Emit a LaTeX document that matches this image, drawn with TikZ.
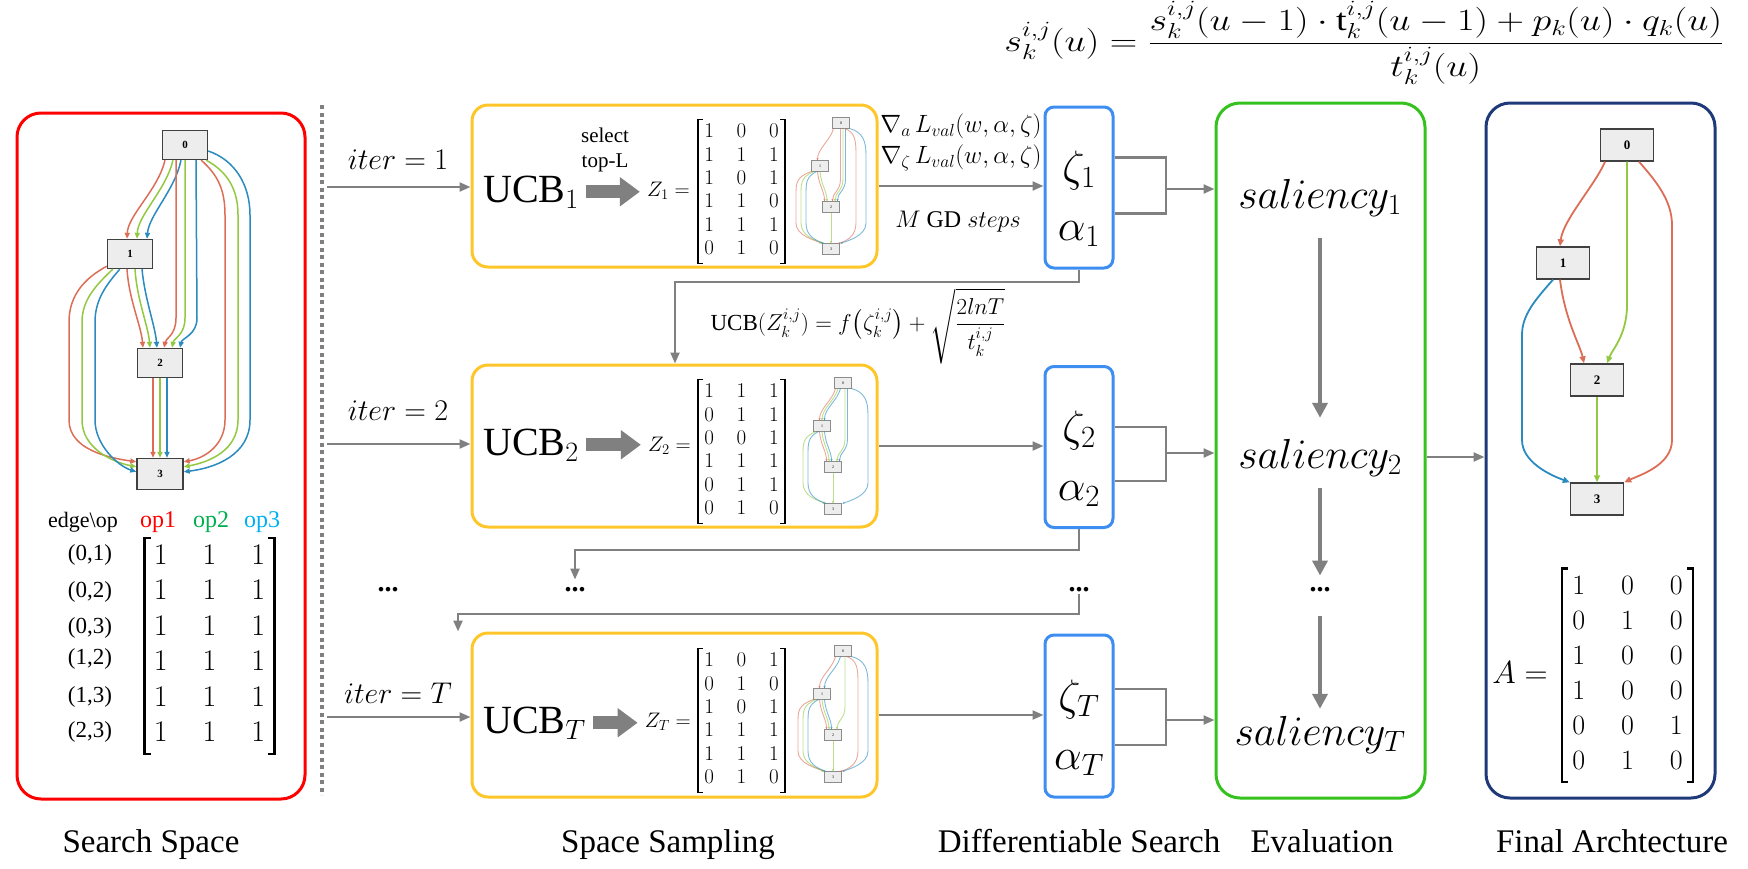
\RequirePackage{fix-cm}
\documentclass[tikz,border=0pt]{standalone}
\usepackage{amsmath}
\usepackage{graphicx}
\usepackage{fontspec}
\setmainfont{Liberation Serif}
\usetikzlibrary{arrows.meta,calc}

\definecolor{cred}{HTML}{FF0000}
\definecolor{cyel}{HTML}{FFC62A}
\definecolor{cblu}{HTML}{3D8EF0}
\definecolor{cgrn}{HTML}{35C21E}
\definecolor{cnavy}{HTML}{1F3A78}
\definecolor{cgray}{HTML}{808080}
\definecolor{ered}{HTML}{DC6E57}
\definecolor{egrn}{HTML}{92C842}
\definecolor{eblu}{HTML}{2A8BBF}
\definecolor{opred}{HTML}{FF0000}
\definecolor{opgrn}{HTML}{00B050}
\definecolor{opblu}{HTML}{00B0F0}
\definecolor{nodefill}{HTML}{EDEDED}

\newcommand\fs[1]{\fontsize{#1}{#1}\selectfont}

\tikzset{
  panel/.style={draw, line width=3pt, rounded corners=24pt, inner sep=0pt},
  ybox/.style={draw=cyel, line width=3pt, rounded corners=16pt, minimum width=405pt, minimum height=162pt, inner sep=0pt},
  zbox/.style={draw=cblu, line width=3pt, rounded corners=9pt, minimum width=68pt, minimum height=161pt, inner sep=0pt},
  conn/.style={draw=cgray, line width=2.2pt, -{Triangle[length=11pt,width=9pt]}},
  cline/.style={draw=cgray, line width=2.2pt},
  garr/.style={draw=cgray, line width=4pt, -{Triangle[length=15pt,width=15pt]}},
  bigarrow/.style={draw=cgray, line width=13pt, -{Triangle[length=20pt,width=28pt]}, shorten <=6pt, shorten >=6pt},
  gnode/.style={draw=black!75, fill=nodefill, line width=1.4pt, minimum width=45pt, minimum height=29pt, inner sep=0pt, font=\fs{11}\bfseries},
  fnode/.style={gnode, minimum width=53pt, minimum height=32pt, font=\fs{13}\bfseries},
  mnode/.style={draw=black!45, fill=nodefill, line width=0.6pt, minimum width=17pt, minimum height=11pt, inner sep=0pt, font=\fs{4}},
  ge/.style={line width=1.5pt, -{Triangle[length=6pt,width=5pt]}},
  ger/.style={ge, draw=ered}, geg/.style={ge, draw=egrn}, geb/.style={ge, draw=eblu},
  fe/.style={line width=1.8pt, -{Triangle[length=7pt,width=6pt]}},
  me/.style={line width=0.9pt, draw opacity=0.6, -{Stealth[length=2.5pt,width=2.2pt]}},
  me1/.style={me, draw=ered}, me2/.style={me, draw=egrn}, me3/.style={me, draw=eblu},
  mat/.style={inner ysep=1.5pt},
  dots/.style={font=\fs{28}\bfseries, inner sep=2pt},
  lab/.style={font=\fs{33}, anchor=base},
  itl/.style={font=\fs{30}, anchor=base},
  ucb/.style={font=\fs{40}, anchor=base west, inner sep=1pt},
}

\newcommand\brk[3]{%
  \draw[line width=#3] ([xshift=#2]#1.north west) -- (#1.north west) -- (#1.south west) -- ([xshift=#2]#1.south west);
  \draw[line width=#3] ([xshift=-#2]#1.north east) -- (#1.north east) -- (#1.south east) -- ([xshift=-#2]#1.south east);}

\newcommand\mini[2]{%
  \node[mnode] (#1-0) at #2 {0};
  \node[mnode] (#1-1) at ($#2+(-21,43)$) {1};
  \node[mnode] (#1-2) at ($#2+(-10,84)$) {2};
  \node[mnode] (#1-3) at ($#2+(-10,126)$) {3};}

\newcommand\medgeX[3]{%
  \pgfmathsetmacro\dd{(#3-2)*2.5}%
  \ifcase#2\relax\or
    \draw[me#3] ($(#1-0)+({-5+\dd},5.5)$) .. controls +(-3,12) and +(0,-12) .. ($(#1-0)+({-21+\dd},37.5)$);%
  \or
    \draw[me#3] ($(#1-0)+({2+\dd},5.5)$) -- ($(#1-0)+({2+\dd},56)$) .. controls +(0,12) and +(0,-9) .. ($(#1-0)+({-6+\dd},78.5)$);%
  \or
    \draw[me#3] ($(#1-0)+({6+\dd},5.5)$) .. controls ($(#1-0)+({18+1.5*\dd},9)$) and ($(#1-0)+({20+2*\dd},18)$) .. ($(#1-0)+({20+2*\dd},32)$) -- ($(#1-0)+({20+2*\dd},100)$) .. controls ($(#1-0)+({20+2*\dd},113)$) and ($(#1-0)+(6,118)$) .. ($(#1-0)+({-2+0.5*\dd},120.5)$);%
  \or
    \draw[me#3] ($(#1-0)+({-21+\dd},48.5)$) .. controls +(1,13) and +(0,-10) .. ($(#1-0)+({-14+\dd},78.5)$);%
  \or
    \draw[me#3] ($(#1-0)+({-27+\dd},48.5)$) .. controls ($(#1-0)+({-40+2*\dd},54)$) and ($(#1-0)+({-40+2*\dd},60)$) .. ($(#1-0)+({-40+2*\dd},72)$) -- ($(#1-0)+({-40+2*\dd},100)$) .. controls ($(#1-0)+({-40+2*\dd},113)$) and ($(#1-0)+(-26,117)$) .. ($(#1-0)+({-18+0.5*\dd},120.5)$);%
  \or
    \draw[me#3] ($(#1-0)+({-10+\dd},89.5)$) -- ($(#1-0)+({-10+\dd},120.5)$);%
  \fi}
\newcommand\medge[3]{\edef\tmpedge{\noexpand\medgeX{#1}{#2}{#3}}\tmpedge}

\begin{document}
\begin{tikzpicture}[x=1pt,y=-1pt]
\useasboundingbox (0,0) rectangle (1748,868);

% ---------- panels ----------
\node[panel, draw=cred, minimum width=288pt, minimum height=686pt] (ss) at (161,456) {};
\draw[cgray, line width=4pt, dash pattern=on 4pt off 3.5pt] (322,105) -- (322,795);
\node[ybox] (yb1) at (674.5,186) {};
\node[ybox] (yb2) at (674.5,446) {};
\node[ybox, minimum height=164pt] (ybT) at (674.5,715) {};
\node[zbox] (z1) at (1079,187.5) {};
\node[zbox] (z2) at (1079,447) {};
\node[zbox, minimum height=162pt] (zT) at (1079,716) {};
\node[panel, draw=cgrn, minimum width=209pt, minimum height=695pt] (gb) at (1320.5,450.5) {};
\node[panel, draw=cnavy, minimum width=229pt, minimum height=695pt] (nb) at (1600.5,450.5) {};

% ---------- search space graph ----------
\node[gnode] (n0) at (185,145) {0};
\node[gnode] (n1) at (130,254) {1};
\node[gnode] (n2) at (160,363) {2};
\node[gnode, minimum width=46pt, minimum height=31pt] (n3) at (160,474) {3};
% 0->1
\draw[ger] ($(n0.south)+(-20,0)$) .. controls (158,190) and (128,215) .. ($(n1.north)+(-3,0)$);
\draw[geg] ($(n0.south)+(-12,0)$) .. controls (166,190) and (138,215) .. ($(n1.north)+(7,0)$);
\draw[geb] ($(n0.south)+(-4,0)$) .. controls (175,190) and (149,215) .. ($(n1.north)+(17,0)$);
% 0->2
\draw[ger] ($(n0.south)+(-9,0)$) -- (176,318) .. controls (176,335) and (166,338) .. ($(n2.north)+(4,0)$);
\draw[geg] (n0.south) -- (185,318) .. controls (185,335) and (174,338) .. ($(n2.north)+(12,0)$);
\draw[geb] ($(n0.south)+(11,0)$) -- (197,318) .. controls (197,335) and (182,338) .. ($(n2.north)+(20,0)$);
% 0->3
\draw[ger] ($(n0.south east)+(-7,0)$) .. controls (218,175) and (225,190) .. (225,215) -- (225,420) .. controls (225,445) and (205,458) .. ($(n3.north east)+(0,4)$);
\draw[geg] ($(n0.south east)+(-2,0)$) .. controls (228,172) and (238,190) .. (238,215) -- (238,420) .. controls (238,450) and (210,462) .. ($(n3.north east)+(0,9)$);
\draw[geb] ($(n0.east)+(0,6)$) .. controls (235,160) and (250,185) .. (250,215) -- (250,420) .. controls (250,455) and (215,468) .. ($(n3.north east)+(0,14)$);
% 1->3
\draw[ger] ($(n1.south west)+(0,-3)$) .. controls (85,278) and (69,295) .. (69,322) -- (69,420) .. controls (69,450) and (110,458) .. ($(n3.north west)+(0,4)$);
\draw[geg] ($(n1.south west)+(6,0)$) .. controls (96,285) and (82,300) .. (82,322) -- (82,420) .. controls (82,448) and (112,462) .. ($(n3.north west)+(0,9)$);
\draw[geb] ($(n1.south west)+(13,0)$) .. controls (106,285) and (95,300) .. (95,322) -- (95,420) .. controls (95,445) and (118,466) .. ($(n3.north west)+(0,14)$);
% 1->2
\draw[ger] ($(n1.south)+(-3,0)$) .. controls (129,300) and (141,325) .. ($(n2.north)+(-17,0)$);
\draw[geg] ($(n1.south)+(5,0)$) .. controls (137,300) and (148,325) .. ($(n2.north)+(-10,0)$);
\draw[geb] ($(n1.south)+(12,0)$) .. controls (145,300) and (155,325) .. ($(n2.north)+(-3,0)$);
% 2->3
\draw[ger] ($(n2.south)+(-7,0)$) -- ($(n3.north)+(-7,0)$);
\draw[geg] (n2.south) -- (n3.north);
\draw[geb] ($(n2.south)+(7,0)$) -- ($(n3.north)+(7,0)$);

% ---------- search space matrix ----------
\node[font=\fs{22}] (eo) at (83,522) {edge\textbackslash op};
\node[font=\fs{24}, text=opred] (op1) at (158,522) {op1};
\node[font=\fs{24}, text=opgrn] (op2) at (211,522) {op2};
\node[font=\fs{24}, text=opblu] (op3) at (262,522) {op3};
\node[font=\fs{23}] (r1) at (90,555) {(0,1)};
\node[font=\fs{23}] (r2) at (90,592) {(0,2)};
\node[font=\fs{23}] (r3) at (90,628) {(0,3)};
\node[font=\fs{23}] (r4) at (90,659) {(1,2)};
\node[font=\fs{23}] (r5) at (90,697) {(1,3)};
\node[font=\fs{23}] (r6) at (90,732) {(2,3)};
\node[mat, inner xsep=9pt, font={\fontsize{30}{35.5}\selectfont\setlength{\arraycolsep}{17.5pt}}] (lm) at (209.5,646) {$\begin{matrix}1&1&1\\1&1&1\\1&1&1\\1&1&1\\1&1&1\\1&1&1\end{matrix}$};
\brk{lm}{6pt}{2.4pt}

% ---------- iteration arrows ----------
\coordinate (it1) at (327,187);
\coordinate (it2) at (327,444);
\coordinate (itT) at (327,717);
\node[itl] (i1) at (398,169) {$iter = 1$};
\node[itl] (i2) at (398,420) {$iter = 2$};
\node[itl] (iT) at (398,703) {$iter = T$};
\draw[conn] (it1) -- (it1 -| yb1.west);
\draw[conn] (it2) -- (it2 -| yb2.west);
\draw[conn] (itT) -- (itT -| ybT.west);

% ---------- row 1 ----------
\node[ucb] (u1) at (482,202) {UCB$_1$};
\node[font=\fs{21}] (sel) at (605,135) {select};
\node[font=\fs{21}] (top) at (605,163) {top-L};
\node[font=\fs{21}, anchor=east, inner sep=1pt] (zl1) at (691,191) {$Z_1 =$};
\draw[bigarrow] (u1.east) -- (u1.east -| zl1.west);
\node[mat, inner xsep=6pt, font={\fontsize{21}{23.4}\selectfont\setlength{\arraycolsep}{11.4pt}}] (m1) at (741.5,191.5) {$\begin{matrix}1&0&0\\1&1&1\\1&0&1\\1&1&0\\1&1&1\\0&1&0\end{matrix}$};
\brk{m1}{5pt}{1.7pt}
\mini{g1}{(841,123)}
\foreach \e/\o in {1/1,2/1,2/2,2/3,3/1,3/3,4/1,4/2,5/1,5/2,5/3,6/2} {\medge{g1}{\e}{\o}}

% ---------- row 2 ----------
\node[ucb] (u2) at (482,455) {UCB$_2$};
\node[font=\fs{21}, anchor=east, inner sep=1pt] (zl2) at (692,446) {$Z_2 =$};
\draw[bigarrow] (u2.east) -- (u2.east -| zl2.west);
\node[mat, inner xsep=6pt, font={\fontsize{21}{23.4}\selectfont\setlength{\arraycolsep}{11.4pt}}] (m2) at (741.5,451.5) {$\begin{matrix}1&1&1\\0&1&1\\0&0&1\\1&1&1\\0&1&1\\0&1&0\end{matrix}$};
\brk{m2}{5pt}{1.7pt}
\mini{g2}{(843,383)}
\foreach \e/\o in {1/1,1/2,1/3,2/2,2/3,3/3,4/1,4/2,4/3,5/2,5/3,6/2} {\medge{g2}{\e}{\o}}

% ---------- row T ----------
\node[ucb] (uT) at (482,733) {UCB$_T$};
\node[font=\fs{21}, anchor=east, inner sep=1pt] (zlT) at (692,722) {$Z_T =$};
\draw[bigarrow] (uT.east) -- (uT.east -| zlT.west);
\node[mat, inner xsep=6pt, font={\fontsize{21}{23.4}\selectfont\setlength{\arraycolsep}{11.4pt}}] (mT) at (741.5,720.5) {$\begin{matrix}1&0&1\\0&1&0\\1&0&1\\1&1&1\\1&1&1\\0&1&0\end{matrix}$};
\brk{mT}{5pt}{1.7pt}
\mini{gT}{(843,651)}
\foreach \e/\o in {1/1,1/3,2/2,3/1,3/3,4/1,4/2,4/3,5/1,5/2,5/3,6/2} {\medge{gT}{\e}{\o}}

% ---------- differentiable search ----------
\node[font=\fs{25}] (gr1) at (961,126) {$\nabla_{a}\,L_{val}(w,\alpha,\zeta)$};
\node[font=\fs{25}] (gr2) at (961,158) {$\nabla_{\zeta}\,L_{val}(w,\alpha,\zeta)$};
\node[font=\fs{24}] (gd) at (958,222) {$M$ GD $steps$};
\draw[conn] (yb1.east) -- (yb1.east -| z1.west);
\draw[conn] (yb2.east) -- (yb2.east -| z2.west);
\draw[conn] (ybT.east) -- (ybT.east -| zT.west);

\node[font=\fs{44}] (zt1) at (1079,170) {$\zeta_1$};
\node[font=\fs{44}] (al1) at (1079,234) {$\alpha_1$};
\node[font=\fs{44}] (zt2) at (1079,430) {$\zeta_2$};
\node[font=\fs{44}] (al2) at (1079,494) {$\alpha_2$};
\node[font=\fs{44}] (ztT) at (1079,699) {$\zeta_T$};
\node[font=\fs{44}] (alT) at (1079,763) {$\alpha_T$};

% feedback connectors
\coordinate (fb1) at (675,282);
\draw[conn] (z1.south) |- (fb1) -- (fb1 |- yb2.north);
\node[font=\fs{23}] (ucbf) at (858,326) {$\mathrm{UCB}(Z_k^{i,j}) = f\big(\zeta_k^{i,j}\big) + \sqrt{\dfrac{2lnT}{t_k^{i,j}}}$};

\node[dots] (dl) at (388,590) {...};
\node[dots] (dm) at (575,590) {...};
\node[dots] (dz) at (1079,590) {...};
\coordinate (fb2) at (575,550);
\draw[conn, shorten >=6pt] (z2.south) |- (fb2) -- (dm.north);
\coordinate (fb3) at (458,614);
\draw[conn] (dz.south) |- (fb3) -- (fb3 |- ybT.north);

% brackets into evaluation
\coordinate (bk1) at (1166,189);
\coordinate (bk2) at (1166,453);
\coordinate (bkT) at (1166,720);
\draw[cline] ($(z1.east)+(0,-30)$) -| (bk1) |- ($(z1.east)+(0,26)$);
\draw[cline] ($(z2.east)+(0,-20)$) -| (bk2) |- ($(z2.east)+(0,34)$);
\draw[cline] ($(zT.east)+(0,-27)$) -| (bkT) |- ($(zT.east)+(0,29)$);
\draw[conn] (bk1) -- (bk1 -| gb.west);
\draw[conn] (bk2) -- (bk2 -| gb.west);
\draw[conn] (bkT) -- (bkT -| gb.west);

% ---------- evaluation ----------
\node[font=\fs{42}] (s1) at (1320,198) {$saliency_1$};
\node[font=\fs{42}] (s2) at (1320,458) {$saliency_2$};
\node[dots] (dg) at (1320,590) {...};
\node[font=\fs{42}] (sT) at (1320,735) {$saliency_T$};
\draw[garr, shorten <=18pt, shorten >=18pt] (s1.south) -- (s2.north);
\draw[garr, shorten <=8pt, shorten >=10pt] (s2.south) -- (dg.north);
\draw[garr, shorten <=22pt, shorten >=4pt] (dg.south) -- (sT.north);
\draw[conn] (gb.east |- 0,457) -- (nb.west |- 0,457);

% top formula
\node[font=\fs{31}] (sf) at (1364,43) {\scalebox{1.23}[1]{$s_k^{i,j}(u) = \dfrac{s_k^{i,j}(u-1)\cdot \mathrm{t}_k^{i,j}(u-1) + p_k(u)\cdot q_k(u)}{t_k^{i,j}(u)}$}};

% ---------- final architecture ----------
\node[fnode] (F0) at (1627,145) {0};
\node[fnode] (F1) at (1563,263) {1};
\node[fnode] (F2) at (1597,380) {2};
\node[fnode] (F3) at (1597,499) {3};
\draw[fe, draw=ered] ($(F0.south)+(-22,0)$) .. controls (1595,185) and (1563,220) .. ($(F1.north)+(-3,0)$);
\draw[fe, draw=egrn] (F0.south) -- (1627,305) .. controls (1627,335) and (1612,350) .. ($(F2.north)+(10,0)$);
\draw[fe, draw=ered] ($(F0.south)+(12,0)$) .. controls (1655,180) and (1672,200) .. (1672,225) -- (1672,440) .. controls (1672,465) and (1640,475) .. (F3.north east);
\draw[fe, draw=ered] ($(F1.south)+(-3,0)$) .. controls (1565,320) and (1580,345) .. ($(F2.north)+(-13,0)$);
\draw[fe, draw=eblu] ($(F1.south)+(-10,0)$) .. controls (1535,300) and (1522,315) .. (1522,335) -- (1522,440) .. controls (1522,462) and (1550,475) .. (F3.north west);
\draw[fe, draw=egrn] (F2.south) -- (F3.north);

\node[font=\fs{32}] (Aeq) at (1520,673) {$A =$};
\node[mat, inner xsep=10pt, font={\fontsize{28}{35}\selectfont\setlength{\arraycolsep}{18pt}}] (am) at (1627.5,675) {$\begin{matrix}1&0&0\\0&1&0\\1&0&0\\1&0&0\\0&0&1\\0&1&0\end{matrix}$};
\brk{am}{6pt}{2.4pt}

% ---------- bottom labels ----------
\node[lab] (L1) at (151,852) {Search Space};
\node[lab] (L2) at (668,852) {Space Sampling};
\node[lab] (L3) at (1079,852) {Differentiable Search};
\node[lab] (L4) at (1322,852) {Evaluation};
\node[lab] (L5) at (1612,852) {Final Archtecture};
\end{tikzpicture}
\end{document}
